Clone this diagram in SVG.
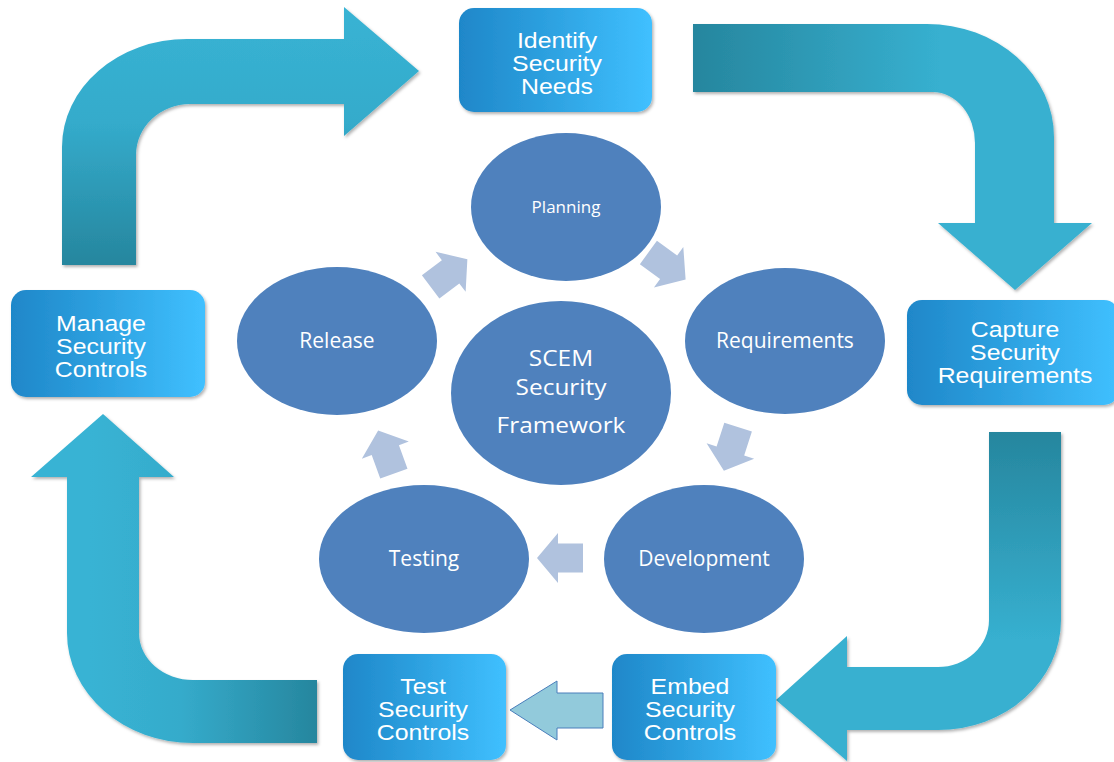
<svg xmlns="http://www.w3.org/2000/svg" width="1114" height="762" viewBox="0 0 1114 762">
<defs>
  <linearGradient id="gA1" gradientUnits="userSpaceOnUse" x1="0" y1="7" x2="0" y2="265">
    <stop offset="0" stop-color="#38b3d4"/><stop offset="0.45" stop-color="#34abcb"/><stop offset="1" stop-color="#26869e"/>
  </linearGradient>
  <linearGradient id="gA2" gradientUnits="userSpaceOnUse" x1="693" y1="0" x2="940" y2="0">
    <stop offset="0" stop-color="#26869e"/><stop offset="1" stop-color="#37b0d0"/>
  </linearGradient>
  <linearGradient id="gA3" gradientUnits="userSpaceOnUse" x1="0" y1="432" x2="0" y2="640">
    <stop offset="0" stop-color="#26869e"/><stop offset="1" stop-color="#37b0d0"/>
  </linearGradient>
  <linearGradient id="gA4" gradientUnits="userSpaceOnUse" x1="90" y1="0" x2="317" y2="0">
    <stop offset="0" stop-color="#38b3d4"/><stop offset="0.4" stop-color="#35abcb"/><stop offset="1" stop-color="#26869e"/>
  </linearGradient>
  <linearGradient id="gBox" x1="0" y1="0" x2="1" y2="0">
    <stop offset="0" stop-color="#1f87c9"/><stop offset="0.5" stop-color="#2ea3e2"/><stop offset="1" stop-color="#40c0ff"/>
  </linearGradient>
  <filter id="sh" x="-10%" y="-10%" width="125%" height="125%">
    <feDropShadow dx="1.5" dy="2" stdDeviation="1.8" flood-color="#000" flood-opacity="0.3"/>
  </filter>
  <polygon id="sa" points="-23,-14.5 2,-14.5 2,-25 23,0 2,25 2,14.5 -23,14.5"/>
</defs>
<style>
  .box { fill: url(#gBox); filter: url(#sh); }
  .bt { font-family: "Liberation Sans", Arial, sans-serif; font-size: 22px; fill: #ffffff; text-anchor: middle; }
  .el { fill: #4f81bd; }
  .et { font-family: "Open Sans", "Noto Sans", sans-serif; font-size: 21px; fill: #ffffff; text-anchor: middle; }
  .ct { font-family: "Open Sans", "Noto Sans", sans-serif; font-size: 22px; fill: #ffffff; text-anchor: middle; }
  .small { fill: #b0c2de; }
  .big { filter: url(#sh); }
</style>

<g id="connectors">
  <path class="big" fill="url(#gA1)" d="M62,265 L62,147 A125,108 0 0 1 187,39 L344,39 L344,7 L419,71 L344,136 L344,104 L190,104 A54,51 0 0 0 136,155 L136,265 Z"/>
  <path class="big" fill="url(#gA2)" d="M693,24 L927,24 A127,113 0 0 1 1054,137 L1054,223 L1092,223 L1015,290 L938,223 L975,223 L975,143 A42,51 0 0 0 933,92 L693,92 Z"/>
  <path class="big" fill="url(#gA3)" d="M989,432 L1061,432 L1061,620 A123,110 0 0 1 938,730 L847,730 L847,761 L776,700 L847,636 L847,667 L938,667 A51,47 0 0 0 989,620 Z"/>
  <path class="big" fill="url(#gA4)" d="M67,477 L31,477 L103,414 L174,477 L139,477 L139,633 A54,47 0 0 0 193,680 L317,680 L317,743 L193,743 A126,110 0 0 1 67,633 Z"/>
  <polygon points="510,710 557,681 557,693 603,693 603,728 557,728 557,740" fill="#92cadb" stroke="#4a7ebb" stroke-width="1"/>
  <use href="#sa" class="small" transform="translate(449,273) rotate(-37)"/>
  <use href="#sa" class="small" transform="translate(667,266) rotate(36)"/>
  <use href="#sa" class="small" transform="translate(731,449) rotate(108)"/>
  <use href="#sa" class="small" transform="translate(560,558) rotate(180)"/>
  <use href="#sa" class="small" transform="translate(386,452) rotate(-110)"/>
</g>

<g id="node-identify">
  <rect class="box" x="459" y="8" width="193" height="104" rx="15"/>
  <text class="bt" transform="translate(557,48) scale(1.13,1)">Identify</text>
  <text class="bt" transform="translate(557,71) scale(1.13,1)">Security</text>
  <text class="bt" transform="translate(557,94) scale(1.13,1)">Needs</text>
</g>
<g id="node-capture">
  <rect class="box" x="907" y="300" width="212" height="105" rx="15"/>
  <text class="bt" transform="translate(1015,337) scale(1.13,1)">Capture</text>
  <text class="bt" transform="translate(1015,360) scale(1.13,1)">Security</text>
  <text class="bt" transform="translate(1015,383) scale(1.13,1)">Requirements</text>
</g>
<g id="node-manage">
  <rect class="box" x="11" y="290" width="194" height="107" rx="15"/>
  <text class="bt" transform="translate(101,331) scale(1.13,1)">Manage</text>
  <text class="bt" transform="translate(101,354) scale(1.13,1)">Security</text>
  <text class="bt" transform="translate(101,377) scale(1.13,1)">Controls</text>
</g>
<g id="node-test">
  <rect class="box" x="343" y="654" width="163" height="106" rx="15"/>
  <text class="bt" transform="translate(423,694) scale(1.13,1)">Test</text>
  <text class="bt" transform="translate(423,717) scale(1.13,1)">Security</text>
  <text class="bt" transform="translate(423,740) scale(1.13,1)">Controls</text>
</g>
<g id="node-embed">
  <rect class="box" x="612" y="654" width="164" height="106" rx="15"/>
  <text class="bt" transform="translate(690,694) scale(1.13,1)">Embed</text>
  <text class="bt" transform="translate(690,717) scale(1.13,1)">Security</text>
  <text class="bt" transform="translate(690,740) scale(1.13,1)">Controls</text>
</g>

<g id="node-planning">
  <ellipse class="el" cx="566" cy="207" rx="95" ry="74"/>
  <text class="et" x="566" y="213" style="font-size:17px">Planning</text>
</g>
<g id="node-requirements">
  <ellipse class="el" cx="785" cy="341" rx="100" ry="73"/>
  <text class="et" x="785" y="348">Requirements</text>
</g>
<g id="node-development">
  <ellipse class="el" cx="704" cy="559" rx="100" ry="74"/>
  <text class="et" x="704" y="566">Development</text>
</g>
<g id="node-testing">
  <ellipse class="el" cx="424" cy="559" rx="105" ry="74"/>
  <text class="et" x="424" y="566">Testing</text>
</g>
<g id="node-release">
  <ellipse class="el" cx="337" cy="341" rx="100" ry="74"/>
  <text class="et" x="337" y="348">Release</text>
</g>
<g id="node-center">
  <ellipse class="el" cx="561" cy="393" rx="110" ry="92"/>
  <text class="ct" transform="translate(561,366) scale(1.11,1)">SCEM</text>
  <text class="ct" transform="translate(561,395) scale(1.11,1)">Security</text>
  <text class="ct" transform="translate(561,433) scale(1.11,1)">Framework</text>
</g>
</svg>
